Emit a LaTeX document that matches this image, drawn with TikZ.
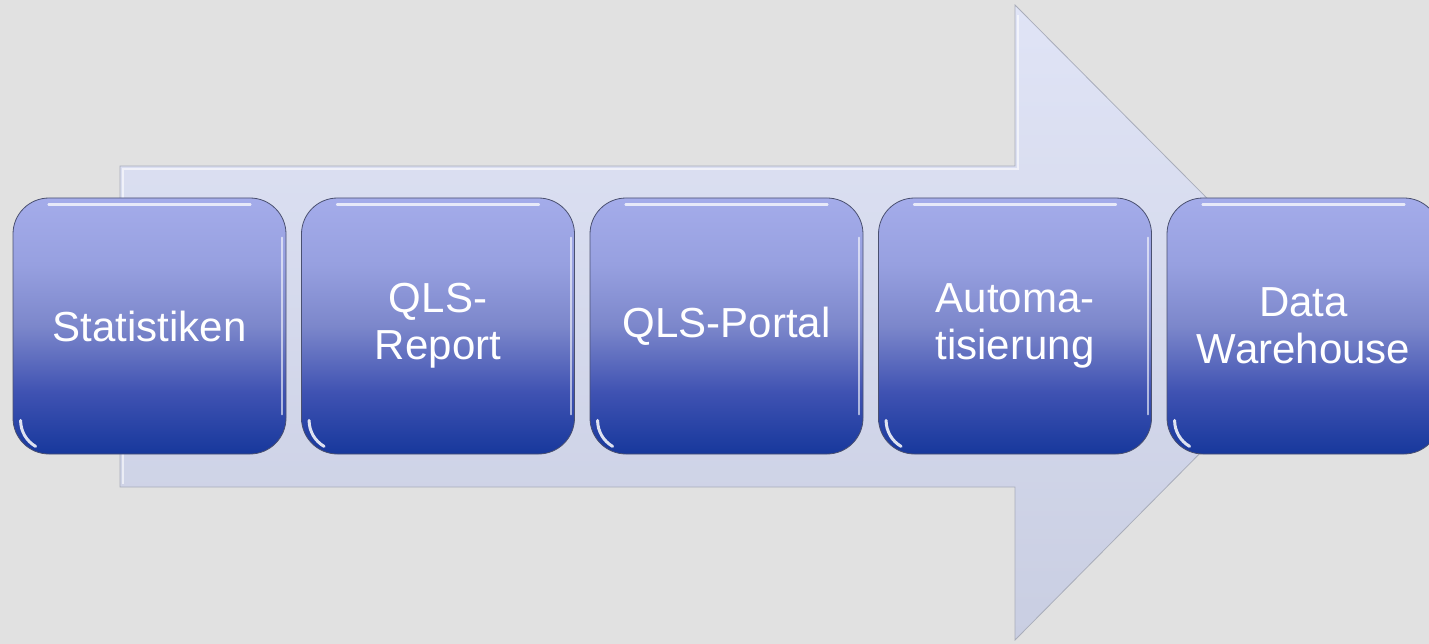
\documentclass[tikz,border=0pt]{standalone}
\usepackage{fontspec}
\setmainfont{Liberation Sans}
\usetikzlibrary{calc}
\definecolor{bg}{HTML}{E1E1E1}
\definecolor{arrtop}{HTML}{E0E4F6}
\definecolor{arrbot}{HTML}{C9CEE2}
\definecolor{arredge}{HTML}{A9ADBA}
\definecolor{bxtop}{HTML}{A4ACEA}
\definecolor{bxm3}{HTML}{97A0E0}
\definecolor{bxm2}{HTML}{7C87CB}
\definecolor{bxm1}{HTML}{3F52B2}
\definecolor{bxbot}{HTML}{17389C}
\definecolor{bxedge}{HTML}{4A5070}
\pgfdeclareverticalshading{boxshade}{100bp}{color(0bp)=(bxbot); color(25bp)=(bxbot); color(37bp)=(bxm1); color(50bp)=(bxm2); color(62bp)=(bxm3); color(75bp)=(bxtop); color(100bp)=(bxtop)}
\tikzset{
  stepnode/.style={rectangle, rounded corners=36pt, minimum width=273pt, minimum height=256pt,
    inner sep=0pt, shading=boxshade, draw=bxedge, line width=0.8pt, text=white, align=center,
    font=\fontsize{42}{47}\selectfont},
  gloss/.style={white, line width=2.5pt, line cap=round, opacity=0.75},
  arrowbody/.style={top color=arrtop, bottom color=arrbot, draw=arredge, line width=0.8pt}
}
\begin{document}
\begin{tikzpicture}[x=1pt,y=-1pt]
\useasboundingbox (0,0) rectangle (1429,644);
\clip (0,0) rectangle (1429,644);
\fill[bg] (0,0) rectangle (1429,644);
% big arrow
\coordinate (a1) at (120,166);
\coordinate (a2) at (1015,166);
\coordinate (a3) at (1015,5);
\coordinate (a4) at (1330,322);
\coordinate (a5) at (1015,640);
\coordinate (a6) at (1015,487);
\coordinate (a7) at (120,487);
\draw[arrowbody] (a1) -- (a2) -- (a3) -- (a4) -- (a5) -- (a6) -- (a7) -- cycle;
\draw[white, opacity=0.6, line width=2pt] ($(a7)+(3,-3)$) -- ($(a1)+(3,3)$) -- ($(a2)+(3,3)$) -- ($(a3)+(3,10)$);
% steps
\foreach \n/\cx/\t in {b1/149.5/Statistiken, b2/438/{QLS-\\Report}, b3/726.5/QLS-Portal, b4/1015/{Automa-\\tisierung}, b5/1303.5/{Data\\Warehouse}}{
  \node[stepnode] (\n) at (\cx,326) {\t};
  \draw[gloss] ($(\n.north west)+(36,7)$) -- ($(\n.north east)+(-36,7)$);
  \draw[gloss, line width=2pt, opacity=0.6] ($(\n.north east)+(-4,40)$) -- ($(\n.south east)+(-4,-40)$);
  \draw[gloss, line width=3pt, opacity=0.85] ($(\n.south west)+(8,-34)$) arc[start angle=180, end angle=240, radius=30pt];
}
\end{tikzpicture}
\end{document}
